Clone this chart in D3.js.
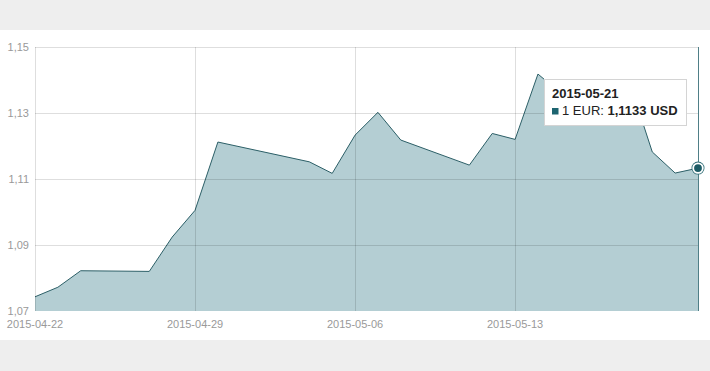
<!DOCTYPE html>
<html>
<head>
<meta charset="utf-8">
<script src="https://cdn.jsdelivr.net/npm/d3@7"></script>
<style>
    html, body { margin: 0; padding: 0; background: #eeeeee; }
    svg { display: block; }
</style>
</head>
<body>
<script>
var dates = ['2015-04-22','2015-04-23','2015-04-24','2015-04-27','2015-04-28','2015-04-29','2015-04-30',
    '2015-05-04','2015-05-05','2015-05-06','2015-05-07','2015-05-08','2015-05-11','2015-05-12','2015-05-13',
    '2015-05-14','2015-05-15','2015-05-18','2015-05-19','2015-05-20','2015-05-21'];
var rates = [1.0743, 1.0772, 1.0822, 1.0820, 1.0924, 1.1005, 1.1212,
    1.1152, 1.1117, 1.1233, 1.1302, 1.1218, 1.1142, 1.1238, 1.1220,
    1.1418, 1.1360, 1.1395, 1.1182, 1.1118, 1.1133];
var xTicks = ['2015-04-22', '2015-04-29', '2015-05-06', '2015-05-13'];
var yTicks = [1.07, 1.09, 1.11, 1.13, 1.15];
var selected = '2015-05-21';

var W = 710, H = 371;
var parse = d3.timeParse('%Y-%m-%d');
var fmt = d3.formatLocale({decimal: ',', thousands: '.', grouping: [3], currency: ['', '']});
var data = dates.map(function (d, i) { return {date: parse(d), rate: rates[i]}; });

var x = d3.scaleTime().domain([parse(dates[0]), parse(dates[dates.length - 1])]).range([35, 698]);
var y = d3.scaleLinear().domain([1.07, 1.15]).range([311, 47]);

var svg = d3.select('body').append('svg').attr('width', W).attr('height', H);
svg.append('rect').attr('x', 0).attr('y', 30).attr('width', W).attr('height', 310).attr('fill', '#fff');

// area + line
svg.append('path').datum(data)
    .attr('d', d3.area().x(function (d) { return x(d.date); }).y0(y(1.07)).y1(function (d) { return y(d.rate); }))
    .attr('fill', '#b4ced3');
svg.append('path').datum(data)
    .attr('d', d3.line().x(function (d) { return x(d.date); }).y(function (d) { return y(d.rate); }))
    .attr('fill', 'none').attr('stroke', '#2c5f67').attr('stroke-width', 1);

// grid on top, semi transparent so it shows through the fill
var grid = svg.append('g').attr('stroke', 'rgba(0,0,0,0.13)').attr('stroke-width', 1);
grid.selectAll('line.h').data(yTicks.slice(1)).enter().append('line')
    .attr('x1', 35).attr('x2', 698)
    .attr('y1', function (d) { return Math.round(y(d)) + 0.5; })
    .attr('y2', function (d) { return Math.round(y(d)) + 0.5; });
grid.selectAll('line.v').data(xTicks).enter().append('line')
    .attr('x1', function (d) { return Math.round(x(parse(d))) + 0.5; })
    .attr('x2', function (d) { return Math.round(x(parse(d))) + 0.5; })
    .attr('y1', y(1.15)).attr('y2', y(1.07));

// axis labels
svg.append('g').selectAll('text').data(yTicks).enter().append('text')
    .attr('x', 29).attr('y', function (d) { return y(d); }).attr('dy', '0.35em')
    .attr('text-anchor', 'end')
    .attr('font-family', 'Liberation Sans, Arial, sans-serif').attr('font-size', 11).attr('fill', '#999')
    .text(function (d) { return fmt.format('.2f')(d); });
svg.append('g').selectAll('text').data(xTicks).enter().append('text')
    .attr('x', function (d) { return x(parse(d)); }).attr('y', 328)
    .attr('text-anchor', 'middle')
    .attr('font-family', 'Liberation Sans, Arial, sans-serif').attr('font-size', 11).attr('fill', '#999')
    .text(function (d) { return d; });

// crosshair + marker for the selected day
var sel = data[dates.indexOf(selected)];
var sx = x(sel.date);
svg.append('line').attr('x1', sx + 0.5).attr('x2', sx + 0.5).attr('y1', y(1.15)).attr('y2', y(1.07))
    .attr('stroke', '#4f7f87').attr('stroke-width', 1);
svg.append('circle').attr('cx', sx).attr('cy', y(sel.rate)).attr('r', 6.5)
    .attr('fill', '#2c6b74');
svg.append('circle').attr('cx', sx).attr('cy', y(sel.rate)).attr('r', 4.8)
    .attr('fill', '#1d5c66').attr('stroke', '#fff').attr('stroke-width', 1.8);

// tooltip
var tip = svg.append('g').attr('transform', 'translate(544,79)');
tip.append('rect').attr('x', 0.5).attr('y', 0.5).attr('width', 142).attr('height', 46)
    .attr('fill', '#fff').attr('stroke', '#d4d4d4');
tip.append('text').attr('x', 8).attr('y', 18.5)
    .attr('font-family', 'Liberation Sans, Arial, sans-serif').attr('font-size', 13)
    .attr('font-weight', 'bold').attr('fill', '#222').text(selected);
tip.append('rect').attr('x', 8).attr('y', 29).attr('width', 6.5).attr('height', 6.5).attr('fill', '#1d6470');
var t2 = tip.append('text').attr('x', 18).attr('y', 36)
    .attr('font-family', 'Liberation Sans, Arial, sans-serif').attr('font-size', 13).attr('fill', '#222');
t2.append('tspan').text('1 EUR: ');
t2.append('tspan').attr('font-weight', 'bold').text(fmt.format('.4f')(sel.rate) + ' USD');
</script>
</body>
</html>
